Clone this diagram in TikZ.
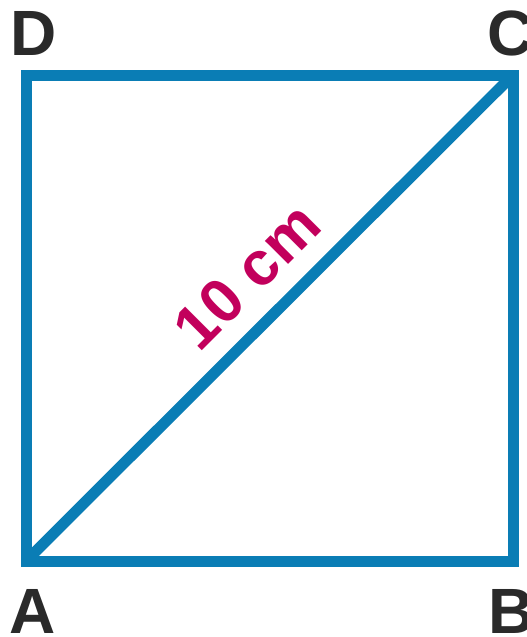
\documentclass[tikz,border=0pt]{standalone}
\usepackage{fontspec}
\setmainfont{Liberation Sans}
\definecolor{sqblue}{HTML}{0A7DB5}
\definecolor{lblmag}{HTML}{C2005C}
\definecolor{lbldark}{HTML}{2A2A2A}
\begin{document}
\begin{tikzpicture}[x=1pt,y=-1pt,
  side/.style={draw=sqblue,line width=11pt,line join=miter},
  vlabel/.style={text=lbldark,font=\fontsize{64}{64}\selectfont\bfseries,inner sep=0pt,anchor=base},
  meas/.style={text=lblmag,font=\fontsize{62}{62}\selectfont\bfseries,inner sep=0pt}]
\useasboundingbox (0,0) rectangle (527,637);
\coordinate (A) at (26,561);
\coordinate (B) at (513,561);
\coordinate (C) at (513,75);
\coordinate (D) at (26,75);
\draw[side] (A) -- (B) -- (C) -- (D) -- cycle;
\draw[side] (A) -- (C);
\node[vlabel] (lD) at (34,55) {D};
\node[vlabel] (lC) at (511,55) {C};
\node[vlabel] (lA) at (33,633) {A};
\node[vlabel] (lB) at (512,633) {B};
\node[meas,rotate=45] (len) at (247,276) {10 cm};
\end{tikzpicture}
\end{document}
